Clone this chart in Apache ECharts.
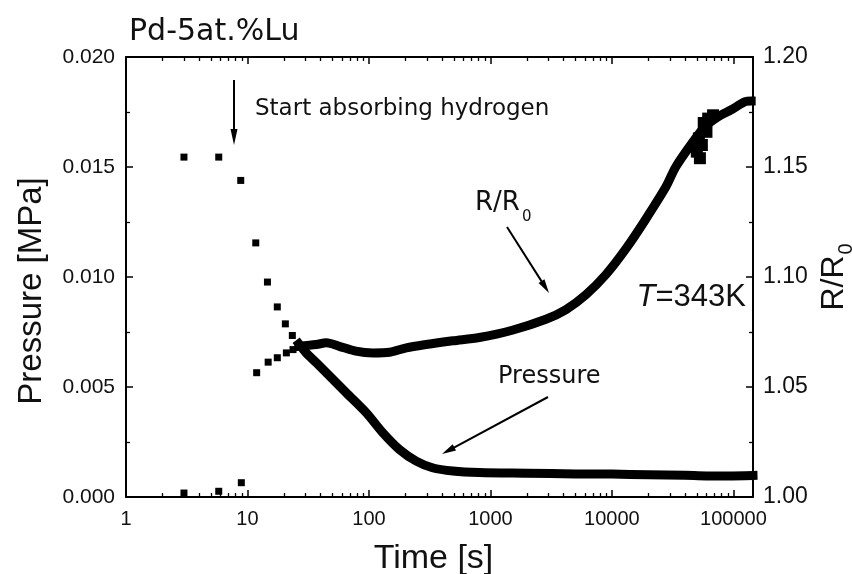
<!DOCTYPE html>
<html><head><meta charset="utf-8">
<script src="https://cdn.jsdelivr.net/npm/echarts@6/dist/echarts.min.js"></script>
<style>html,body{margin:0;padding:0;background:#fff}#c{width:852px;height:574px}</style>
</head><body><div id="c"></div>
<script>
// ---------- data ----------
const titleText = 'Pd-5at.%Lu';
const xTickLabels = ['1', '10', '100', '1000', '10000', '100000'];
const xMin = 1, xMax = 145000;
const pMin = 0, pMax = 0.020, pStep = 0.005;
const rMin = 1.00, rMax = 1.20, rStep = 0.05;

// Pressure [MPa], isolated early points
const pSparseT = [3, 5.8, 8.8, 11.7, 14.6, 17.6, 20.5, 23.4];
const pSparseV = [0.01545, 0.01545, 0.01439, 0.01155, 0.00977, 0.00864, 0.00787, 0.00734];
// Pressure, dense band
const pDenseT = [26.5, 30.4, 36.9, 44.6, 65, 95, 130, 178, 245, 333, 490, 810, 2000, 5000, 10000, 20000, 40000, 60000, 90000, 145000];
const pDenseV = [0.00696, 0.00655, 0.0061, 0.00565, 0.00474, 0.00383, 0.00292, 0.00216, 0.00163, 0.00133, 0.00118, 0.00111, 0.00108, 0.00105, 0.00104, 0.00101, 0.00099, 0.00096, 0.00096, 0.00098];

// R/R0, isolated early points
const rSparseT = [3, 5.8, 8.9, 11.9, 14.8, 17.6, 20.9, 23.7];
const rSparseV = [1.0018, 1.0026, 1.0065, 1.0565, 1.0613, 1.0633, 1.0655, 1.0670];
// R/R0, dense band
const rDenseT = [26.5, 36.9, 44.6, 57, 78, 108, 148, 203, 295, 490, 810, 1510, 2860, 4190, 6120, 8950, 13100, 19100, 27900, 33500, 45600, 58500, 75000, 96000, 125000, 140000];
const rDenseV = [1.0685, 1.0693, 1.0701, 1.0685, 1.0663, 1.0655, 1.0658, 1.0678, 1.0693, 1.0710, 1.0725, 1.0758, 1.0808, 1.0852, 1.0920, 1.1012, 1.1130, 1.1265, 1.1411, 1.1500, 1.1608, 1.1684, 1.1729, 1.1760, 1.1797, 1.1800];
// R/R0, scattered points in the noisy part
const rNoiseT = [50000, 52000, 53000, 55000, 57000, 60000, 62000, 68000];
const rNoiseV = [1.157, 1.163, 1.154, 1.160, 1.170, 1.166, 1.172, 1.1735];

// ---------- build ----------
const zip = (a, b) => a.map((v, i) => [v, b[i]]);
const xTickNums = xTickLabels.map(Number);
const minorLog = [];
for (let n = 0; n < 6; n++) for (let k = 2; k <= 9; k++) {
  const v = k * Math.pow(10, n);
  if (v < xMax) minorLog.push(Math.log10(v));
}

const G = { left: 126, right: 99, top: 57, bottom: 77, containLabel: false, outerBoundsMode: 'none' };
const BLACK = '#000';
const axisLineStyle = { color: BLACK, width: 2 };
const majorTick = { show: true, inside: true, length: 7, lineStyle: { color: BLACK, width: 1.5 } };

function arrow(x1, y1, x2, y2, hl, hw) {
  const dx = x2 - x1, dy = y2 - y1, L = Math.hypot(dx, dy);
  const ux = dx / L, uy = dy / L, nx = -uy, ny = ux;
  const bx = x2 - ux * hl, by = y2 - uy * hl;
  return [
    { type: 'line', shape: { x1, y1, x2: bx + ux * 2, y2: by + uy * 2 }, style: { stroke: BLACK, lineWidth: 2 } },
    { type: 'polygon', shape: { points: [[x2, y2], [bx + nx * hw / 2, by + ny * hw / 2], [bx - nx * hw / 2, by - ny * hw / 2]] }, style: { fill: BLACK } }
  ];
}

const chart = echarts.init(document.getElementById('c'), null, { renderer: 'canvas' });
const logAxisBase = {
  type: 'log', logBase: 10, min: xMin, max: xMax,
  axisLine: { show: true, onZero: false, lineStyle: axisLineStyle },
  axisTick: majorTick,
  splitLine: { show: false }, minorSplitLine: { show: false }
};
const minorAxisBase = {
  type: 'value', min: 0, max: Math.log10(xMax),
  axisLine: { show: false, onZero: false }, splitLine: { show: false },
  axisLabel: { show: false },
  axisTick: { show: true, inside: true, length: 4, customValues: minorLog, lineStyle: { color: BLACK, width: 1.3 } }
};

const option = {
  backgroundColor: '#fff',
  animation: false,
  grid: G,
  title: {
    text: titleText, left: 124, top: 12,
    textStyle: { fontFamily: 'DejaVu Sans', fontSize: 30, fontWeight: 'normal', color: '#111' }
  },
  xAxis: [
    Object.assign({}, logAxisBase, {
      position: 'bottom',
      axisLabel: {
        show: true, margin: 12, showMaxLabel: false,
        fontFamily: 'Liberation Sans', fontSize: 20, color: '#111',
        formatter: v => { const r = Math.round(v); return xTickNums.includes(r) ? String(r) : ''; }
      },
      name: 'Time [s]', nameLocation: 'middle', nameGap: 45,
      nameTextStyle: { fontFamily: 'Liberation Sans', fontSize: 34, color: '#111', padding: [0, 12, 0, 0] }
    }),
    Object.assign({}, logAxisBase, { position: 'top', axisLabel: { show: false } }),
    Object.assign({}, minorAxisBase, { position: 'bottom' }),
    Object.assign({}, minorAxisBase, { position: 'top' })
  ],
  yAxis: [
    {
      type: 'value', position: 'left', min: pMin, max: pMax, interval: pStep,
      axisLine: { show: true, onZero: false, lineStyle: axisLineStyle },
      axisTick: majorTick,
      minorTick: { show: true, splitNumber: 2, length: 4, lineStyle: { color: BLACK, width: 1.3 } },
      splitLine: { show: false },
      axisLabel: { margin: 11, fontFamily: 'Liberation Sans', fontSize: 21, color: '#111', formatter: v => v.toFixed(3) },
      name: 'Pressure [MPa]', nameLocation: 'middle', nameGap: 78, nameRotate: 90,
      nameTextStyle: { fontFamily: 'Liberation Sans', fontSize: 33, color: '#111', padding: [0, 28, 0, 0] }
    },
    {
      type: 'value', position: 'right', min: rMin, max: rMax, interval: rStep,
      axisLine: { show: true, onZero: false, lineStyle: axisLineStyle },
      axisTick: majorTick,
      minorTick: { show: true, splitNumber: 2, length: 4, lineStyle: { color: BLACK, width: 1.3 } },
      splitLine: { show: false },
      axisLabel: { margin: 10, fontFamily: 'Liberation Sans', fontSize: 23, color: '#111', formatter: v => v.toFixed(2) },
      name: '{a|R/R}{s|0}', nameLocation: 'middle', nameGap: 47, nameRotate: 90,
      nameTextStyle: {
        fontFamily: 'Liberation Sans', fontSize: 32, color: '#111',
        rich: {
          a: { fontFamily: 'Liberation Sans', fontSize: 32, color: '#111', verticalAlign: 'top', lineHeight: 36 },
          s: { fontFamily: 'Liberation Sans', fontSize: 20, color: '#111', verticalAlign: 'top', padding: [18, 0, 0, 1] }
        }
      }
    }
  ],
  series: [
    { type: 'scatter', xAxisIndex: 0, yAxisIndex: 0, data: zip(pSparseT, pSparseV), symbol: 'rect', symbolSize: 7, itemStyle: { color: BLACK, opacity: 1 } },
    { type: 'line', xAxisIndex: 0, yAxisIndex: 0, data: zip(pDenseT, pDenseV), smooth: 0.3, symbol: 'none',
      lineStyle: { color: BLACK, width: 9, join: 'round', cap: 'square' } },
    { type: 'scatter', xAxisIndex: 0, yAxisIndex: 1, data: zip(rSparseT, rSparseV), symbol: 'rect', symbolSize: 7, itemStyle: { color: BLACK, opacity: 1 } },
    { type: 'line', xAxisIndex: 0, yAxisIndex: 1, data: zip(rDenseT, rDenseV), smooth: 0.3, symbol: 'none',
      lineStyle: { color: BLACK, width: 9, join: 'round', cap: 'square' } },
    { type: 'scatter', xAxisIndex: 0, yAxisIndex: 1, data: zip(rNoiseT, rNoiseV), symbol: 'rect', symbolSize: 12, itemStyle: { color: BLACK, opacity: 1 } }
  ],
  graphic: [
    { type: 'text', style: { x: 255, y: 109, text: 'Start absorbing hydrogen', font: '23px "DejaVu Sans"', fill: '#111', verticalAlign: 'middle' } },
    ...arrow(234, 80, 234, 145, 16, 7),
    { type: 'text', style: { x: 475, y: 203, text: 'R/R', font: '26px "DejaVu Sans"', fill: '#111', verticalAlign: 'middle' } },
    { type: 'text', style: { x: 522, y: 217, text: '0', font: '15px "DejaVu Sans"', fill: '#111', verticalAlign: 'middle' } },
    ...arrow(507, 227, 549, 293, 14, 7),
    { type: 'text', style: { x: 498, y: 377, text: 'Pressure', font: '24px "DejaVu Sans"', fill: '#111', verticalAlign: 'middle' } },
    ...arrow(548, 397, 442, 454, 14, 7),
    { type: 'text', style: {
        x: 746, y: 297, text: '{i|T}{n|=343K}', align: 'right', verticalAlign: 'middle',
        rich: {
          i: { fontFamily: 'Liberation Sans', fontStyle: 'italic', fontSize: 31, fill: '#111' },
          n: { fontFamily: 'Liberation Sans', fontSize: 31, fill: '#111' }
        }
      } }
  ]
};
chart.setOption(option);
</script>
</body></html>
